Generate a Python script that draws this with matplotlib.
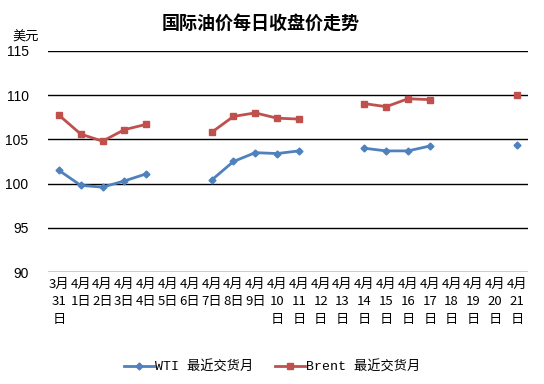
import matplotlib
matplotlib.use("Agg")
import matplotlib.pyplot as plt
import numpy as np

plt.rcParams['font.family'] = ['Noto Sans CJK SC', 'DejaVu Sans']

dates = ["3月\n31\n日", "4月\n1日", "4月\n2日", "4月\n3日", "4月\n4日", "4月\n5日", "4月\n6日",
         "4月\n7日", "4月\n8日", "4月\n9日", "4月\n10\n日", "4月\n11\n日", "4月\n12\n日", "4月\n13\n日",
         "4月\n14\n日", "4月\n15\n日", "4月\n16\n日", "4月\n17\n日", "4月\n18\n日", "4月\n19\n日",
         "4月\n20\n日", "4月\n21\n日"]
nan = np.nan
wti = [101.5, 99.8, 99.6, 100.3, 101.1, nan, nan, 100.4, 102.5, 103.5, 103.4, 103.7, nan, nan,
       104.0, 103.7, 103.7, 104.25, nan, nan, nan, 104.4]
brent = [107.75, 105.6, 104.8, 106.1, 106.7, nan, nan, 105.8, 107.6, 108.0, 107.4, 107.3, nan, nan,
         109.05, 108.7, 109.6, 109.5, nan, nan, nan, 110.0]
yticks = [90, 95, 100, 105, 110, 115]

fig = plt.figure(figsize=(5.44, 3.84), dpi=100)
ax = fig.add_axes([48/544, 1-272/384, 480/544, 221/384])
x = np.arange(len(dates))
ax.plot(x, wti, color='#4F81BD', lw=2, marker='D', ms=3.5, label='WTI 最近交货月')
ax.plot(x, brent, color='#C0504D', lw=2, marker='s', ms=5, label='Brent 最近交货月')
ax.set_xlim(-0.5, len(dates)-0.5)
ax.set_ylim(90, 115)
ax.set_yticks(yticks)
ax.set_yticklabels([str(v) for v in yticks], fontsize=10, family=['Liberation Sans', 'DejaVu Sans'])
ax.set_xticks(x)
ax.set_xticklabels(dates, fontsize=9.5, linespacing=1.45)
ax.tick_params(axis='both', length=0, pad=4)
ax.tick_params(axis='y', pad=14)
ax.yaxis.grid(True, color='black', lw=1)
ax.set_axisbelow(True)
for s in ax.spines.values():
    s.set_visible(False)
fig.text(0.48, 0.94, '国际油价每日收盘价走势', ha='center', va='center', fontsize=13, fontweight='bold')
fig.text(0.048, 0.904, '美元', ha='center', va='center', fontsize=9.5)
fig.legend(loc='center', bbox_to_anchor=(0.5, 0.045), ncol=2, frameon=False,
           prop={'family': ['Liberation Mono', 'Noto Sans CJK SC'], 'size': 9.5},
           handlelength=2.3, columnspacing=1.6, handletextpad=0.1)
fig.savefig('out.png', dpi=100)
